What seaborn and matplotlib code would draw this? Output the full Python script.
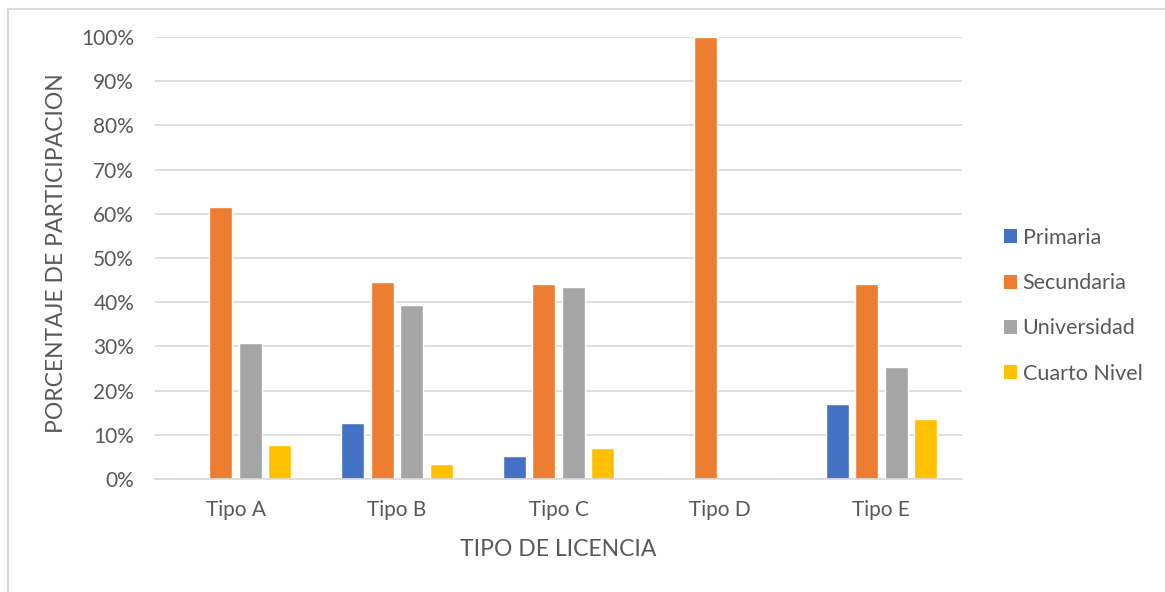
import pandas as pd
import seaborn as sns
import matplotlib.pyplot as plt
from matplotlib.ticker import PercentFormatter
from matplotlib.lines import Line2D
from matplotlib.patches import Patch

# Data (percent of participation by license type and education level)
tipos = ['Tipo A', 'Tipo B', 'Tipo C', 'Tipo D', 'Tipo E']
niveles = ['Primaria', 'Secundaria', 'Universidad', 'Cuarto Nivel']
primaria = [0.0, 12.6, 5.3, 0.0, 16.9]
secundaria = [61.5, 44.5, 44.2, 100.0, 44.1]
universidad = [30.8, 39.4, 43.4, 0.0, 25.4]
cuarto_nivel = [7.7, 3.3, 7.0, 0.0, 13.6]
colores = ['#4472C4', '#ED7D31', '#A5A5A5', '#FFC000']

df = pd.DataFrame({'tipo': tipos, 'Primaria': primaria, 'Secundaria': secundaria,
                   'Universidad': universidad, 'Cuarto Nivel': cuarto_nivel})
df = df.melt(id_vars='tipo', var_name='nivel', value_name='pct')

sns.set_style('white')
plt.rcParams['font.family'] = ['Lato', 'DejaVu Sans']
txt = '#595959'

fig = plt.figure(figsize=(11.65, 5.92), dpi=100)
ax = fig.add_axes([155 / 1165, 1 - 479 / 592, 807 / 1165, 442 / 592])

sns.barplot(data=df, x='tipo', y='pct', hue='nivel', hue_order=niveles,
            palette=colores, width=0.73, gap=0.22, saturation=1, ax=ax, legend=False)

ax.set_ylim(0, 100)
ax.set_xlim(-0.5, 4.5)
ax.yaxis.set_major_locator(plt.MultipleLocator(10))
ax.yaxis.set_major_formatter(PercentFormatter(decimals=0))
ax.grid(axis='y', color='#D9D9D9', linewidth=1.2, zorder=0)
ax.set_axisbelow(True)
for s in ['top', 'right', 'left']:
    ax.spines[s].set_visible(False)
ax.spines['bottom'].set_color('#D9D9D9')
ax.spines['bottom'].set_linewidth(1.2)
ax.tick_params(length=0, labelsize=15, colors=txt)
ax.tick_params(axis='y', pad=15)
ax.tick_params(axis='x', pad=15)

ax.set_xlabel('TIPO DE LICENCIA', fontsize=16.5, color=txt, va='center')
ax.set_ylabel('PORCENTAJE DE PARTICIPACION', fontsize=16.5, color=txt, va='center')
ax.xaxis.set_label_coords(0.5, (479 - 549) / 442)
ax.yaxis.set_label_coords((57 - 155) / 807, 0.51)

handles = [Patch(facecolor=c, edgecolor='none') for c in colores]
fig.legend(handles, niveles, loc='upper left', bbox_to_anchor=(1004 / 1165, 1 - 228 / 592),
           frameon=False, fontsize=15.5, labelcolor=txt, handlelength=0.62,
           handleheight=0.62, handletextpad=0.25, labelspacing=1.17, borderaxespad=0,
           borderpad=0)

# light frame edges (top and left) around the chart
fig.add_artist(Line2D([8 / 1165, 1], [1 - 8.5 / 592, 1 - 8.5 / 592], transform=fig.transFigure,
                      color='#D9D9D9', linewidth=1.5))
fig.add_artist(Line2D([8 / 1165, 8 / 1165], [0, 1 - 8.5 / 592], transform=fig.transFigure,
                      color='#D9D9D9', linewidth=1.5))

fig.savefig('out.png', dpi=100)
